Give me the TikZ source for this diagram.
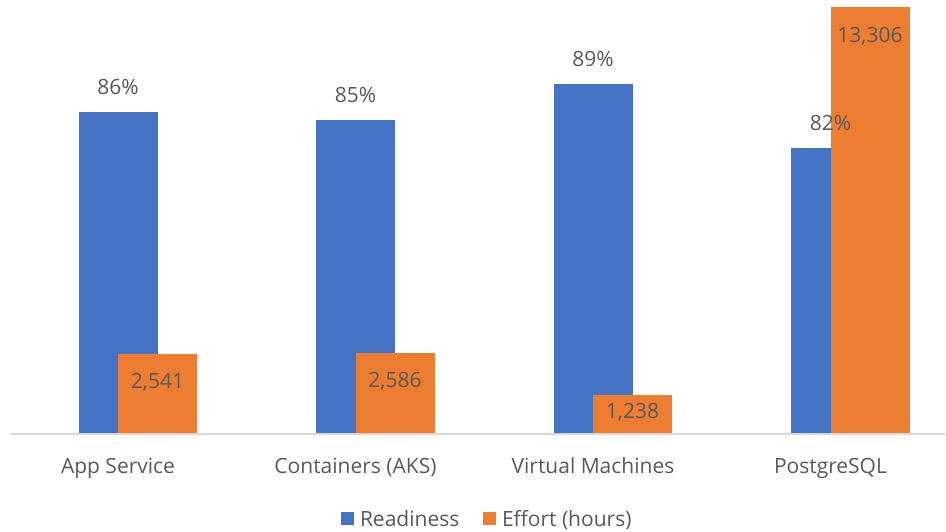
\documentclass[tikz,border=0pt]{standalone}
\usepackage{fontspec}
\setmainfont{Open Sans}
\usetikzlibrary{positioning}

\begin{document}
\begin{tikzpicture}[x=1pt, y=-1pt, every node/.style={inner sep=0pt, outer sep=0pt}]
    % chart colours
    \definecolor{readblue}{RGB}{68,114,196}     % readiness
    \definecolor{effortorange}{RGB}{237,125,49} % effort
    \definecolor{labeltext}{RGB}{89,89,89}      % labels
    \definecolor{axisgray}{RGB}{217,217,217}    % axis line

    % styles
    \tikzstyle{ready} = [rectangle, fill=readblue, draw=none, minimum width=79pt, anchor=south west]
    \tikzstyle{effort} = [rectangle, fill=effortorange, draw=none, minimum width=79pt, anchor=south west]
    \tikzstyle{vallabel} = [font=\fontsize{21}{25}\selectfont, text=labeltext, text height=15pt, text depth=0pt]
    \tikzstyle{legendbox} = [rectangle, minimum size=13pt, draw=none]

    \useasboundingbox (0,0) rectangle (946,531);

    % App Service
    \node[ready, minimum height=322pt] (appR) at (78.5,434) {};
    \node[effort, minimum height=80pt] (appE) at (118,434) {};
    \node[vallabel, above=18pt of appR] (appRval) {86\%};
    \node[vallabel, below=19pt of appE.north] (appEval) {2,541};
    \node[vallabel, below=24pt of appR] (appcat) {App Service};

    % Containers (AKS)
    \node[ready, minimum height=314pt] (aksR) at (316,434) {};
    \node[effort, minimum height=81pt] (aksE) at (355.5,434) {};
    \node[vallabel, above=18pt of aksR] (aksRval) {85\%};
    \node[vallabel, below=19pt of aksE.north] (aksEval) {2,586};
    \node[vallabel, below=24pt of aksR] (akscat) {Containers (AKS)};

    % Virtual Machines
    \node[ready, minimum height=350pt] (vmR) at (553.5,434) {};
    \node[effort, minimum height=39pt] (vmE) at (593,434) {};
    \node[vallabel, above=18pt of vmR] (vmRval) {89\%};
    \node[vallabel, below=8pt of vmE.north] (vmEval) {1,238};
    \node[vallabel, below=24pt of vmR] (vmcat) {Virtual Machines};

    % PostgreSQL
    \node[ready, minimum height=286pt] (pgR) at (791,434) {};
    \node[effort, minimum height=427pt] (pgE) at (830.5,434) {};
    \node[vallabel, above=18pt of pgR] (pgRval) {82\%};
    \node[vallabel, below=20pt of pgE.north] (pgEval) {13,306};
    \node[vallabel, below=24pt of pgR] (pgcat) {PostgreSQL};

    % axis
    \coordinate (axL) at (11,434);
    \coordinate (axR) at (945,434);
    \draw[axisgray, line width=1.5pt] (axL) -- (axR);

    % legend
    \node[legendbox, fill=readblue] (keyR) at (347.5,518.5) {};
    \node[vallabel, right=6pt of keyR] (keyRtxt) {Readiness};
    \node[legendbox, fill=effortorange] (keyE) at (489.5,518.5) {};
    \node[vallabel, right=6pt of keyE] (keyEtxt) {Effort (hours)};
\end{tikzpicture}
\end{document}
